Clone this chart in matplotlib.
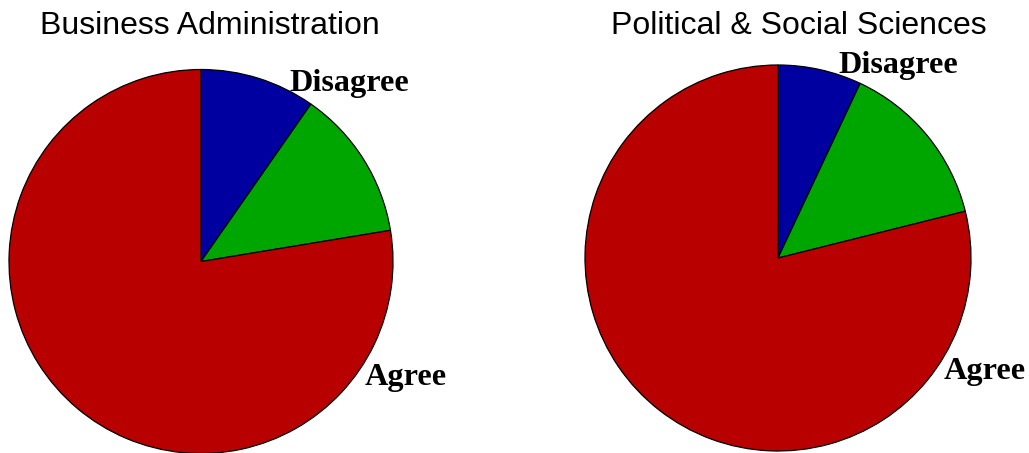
import matplotlib
matplotlib.use('Agg')
import matplotlib.pyplot as plt

# responses per faculty, clockwise from 12 o'clock: disagree, neutral, agree
categories = ['Disagree', 'Neutral', 'Agree']
business = [9.7, 12.7, 77.6]
political = [7.0, 14.1, 78.9]
titles = ['Business Administration', 'Political & Social Sciences']
colors = ['#0000a0', '#00a600', '#b80000']

W, H = 1029, 453
fig = plt.figure(figsize=(W / 100, H / 100), dpi=100)
ax = fig.add_axes([0, 0, 1, 1])

pies = [
    dict(data=business, center=(201, H - 261.5), radius=192,
         title_xy=(210, H - 26),
         dis_xy=(349, H - 83), agr_xy=(406, H - 377)),
    dict(data=political, center=(778, H - 258), radius=193,
         title_xy=(799, H - 26),
         dis_xy=(898, H - 65), agr_xy=(985, H - 372)),
]

for p, title in zip(pies, titles):
    ax.pie(p['data'], colors=colors, startangle=90, counterclock=False,
           center=p['center'], radius=p['radius'],
           wedgeprops=dict(edgecolor='black', linewidth=0.9))
    ax.text(*p['title_xy'], title, ha='center', va='center',
            family='Liberation Sans', fontsize=23)
    ax.text(*p['dis_xy'], categories[0], ha='center', va='center',
            family='Liberation Serif', fontweight='bold', fontsize=23.2)
    ax.text(*p['agr_xy'], categories[2], ha='center', va='center',
            family='Liberation Serif', fontweight='bold', fontsize=23.2)

ax.set_aspect('equal')
ax.set_xlim(0, W)
ax.set_ylim(0, H)
ax.axis('off')

fig.savefig('out.png', dpi=100)
